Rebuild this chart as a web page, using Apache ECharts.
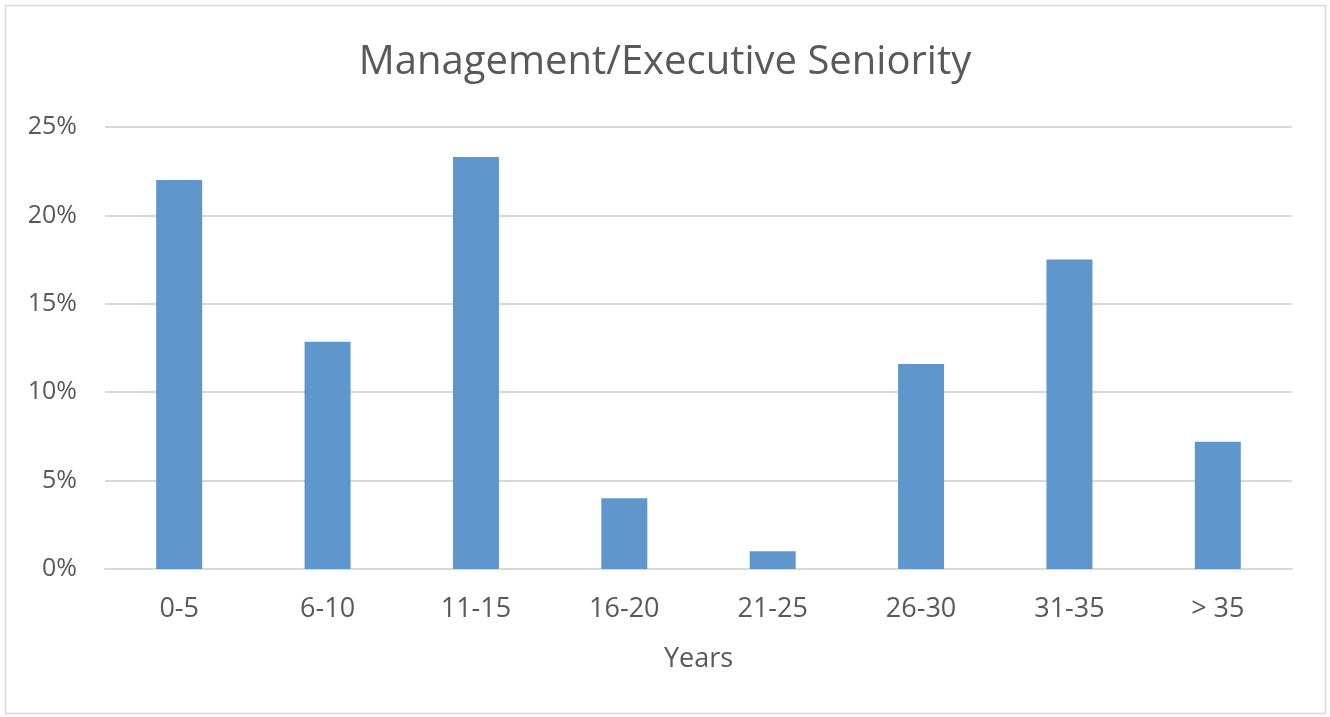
<!DOCTYPE html>
<html>
<head>
    <meta charset="UTF-8">
    <title>Management/Executive Seniority</title>
    <style>
        html, body { margin: 0; padding: 0; background: #fff; }
        #main { width: 1330px; height: 717px; }
    </style>
</head>
<body>
    <div id="main"></div>
    <script src="https://cdn.jsdelivr.net/npm/echarts@6/dist/echarts.min.js"></script>
    <script type="text/javascript">
        // data
        var categories = ['0-5', '6-10', '11-15', '16-20', '21-25', '26-30', '31-35', '> 35'];
        var seniority = [22.0, 12.85, 23.3, 4.0, 1.0, 11.6, 17.5, 7.2];

        var myChart = echarts.init(document.getElementById('main'));
        var font = 'Open Sans';

        myChart.setOption({
            animation: false,
            title: {
                text: 'Management/Executive Seniority',
                left: 'center',
                top: 38,
                textStyle: { fontFamily: font, fontSize: 40, fontWeight: 'normal', color: '#595959' }
            },
            // outer frame
            graphic: [{
                type: 'rect',
                shape: { x: 5.5, y: 5.5, width: 1320, height: 708 },
                style: { fill: 'none', stroke: '#d9d9d9', lineWidth: 1.5 },
                silent: true
            }],
            grid: { left: 105, right: 38, top: 127, bottom: 148 },
            xAxis: {
                type: 'category',
                data: categories,
                name: 'Years',
                nameLocation: 'middle',
                nameGap: 77,
                nameTextStyle: { fontFamily: font, fontSize: 27, color: '#595959' },
                axisLine: { lineStyle: { color: '#d9d9d9', width: 2 } },
                axisTick: { show: false },
                axisLabel: { fontFamily: font, fontSize: 27, color: '#595959', margin: 27 }
            },
            yAxis: {
                type: 'value',
                min: 0,
                max: 25,
                interval: 5,
                axisLine: { show: false },
                axisTick: { show: false },
                splitLine: { lineStyle: { color: '#d9d9d9', width: 2 } },
                axisLabel: {
                    fontFamily: font, fontSize: 25, color: '#595959', margin: 28,
                    formatter: function (v) { return v + '%'; }
                }
            },
            series: [{
                type: 'bar',
                data: seniority,
                barWidth: '31%',
                itemStyle: { color: '#5f97cc' }
            }]
        });
    </script>
</body>
</html>
